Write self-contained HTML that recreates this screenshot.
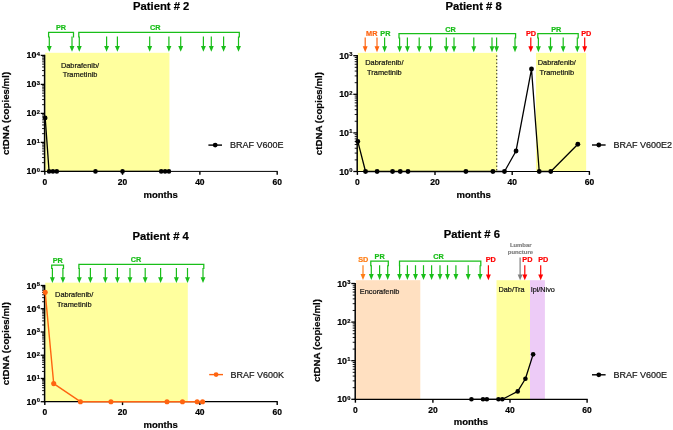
<!DOCTYPE html>
<html lang="en"><head><meta charset="utf-8"><title>ctDNA patients</title>
<style>
html,body{margin:0;padding:0;background:#fff;}
svg{display:block;font-family:"Liberation Sans", Arial, Helvetica, sans-serif;}
</style></head>
<body>
<svg width="673" height="430" viewBox="0 0 673 430">
<rect x="0" y="0" width="673" height="430" fill="#ffffff"/>
<rect x="45.20" y="52.80" width="124.23" height="118.60" fill="#ffff9e"/>
<line x1="44.60" y1="54.80" x2="44.60" y2="172.00" stroke="#000" stroke-width="1.5"/>
<line x1="44.00" y1="171.40" x2="277.80" y2="171.40" stroke="#000" stroke-width="1.0"/>
<line x1="40.70" y1="171.40" x2="44.60" y2="171.40" stroke="#000" stroke-width="1.3"/>
<text x="40.00" y="174.40" font-size="8.9" font-weight="bold" stroke="#000" stroke-width="0.2" text-anchor="end">10<tspan font-size="5.8" dx="0.3" dy="-2.6">0</tspan></text>
<line x1="42.10" y1="162.67" x2="44.60" y2="162.67" stroke="#000" stroke-width="0.9"/>
<line x1="42.10" y1="157.56" x2="44.60" y2="157.56" stroke="#000" stroke-width="0.9"/>
<line x1="42.10" y1="153.94" x2="44.60" y2="153.94" stroke="#000" stroke-width="0.9"/>
<line x1="42.10" y1="151.13" x2="44.60" y2="151.13" stroke="#000" stroke-width="0.9"/>
<line x1="42.10" y1="148.83" x2="44.60" y2="148.83" stroke="#000" stroke-width="0.9"/>
<line x1="42.10" y1="146.89" x2="44.60" y2="146.89" stroke="#000" stroke-width="0.9"/>
<line x1="42.10" y1="145.21" x2="44.60" y2="145.21" stroke="#000" stroke-width="0.9"/>
<line x1="42.10" y1="143.73" x2="44.60" y2="143.73" stroke="#000" stroke-width="0.9"/>
<line x1="40.70" y1="142.40" x2="44.60" y2="142.40" stroke="#000" stroke-width="1.3"/>
<text x="40.00" y="145.40" font-size="8.9" font-weight="bold" stroke="#000" stroke-width="0.2" text-anchor="end">10<tspan font-size="5.8" dx="0.3" dy="-2.6">1</tspan></text>
<line x1="42.10" y1="133.67" x2="44.60" y2="133.67" stroke="#000" stroke-width="0.9"/>
<line x1="42.10" y1="128.56" x2="44.60" y2="128.56" stroke="#000" stroke-width="0.9"/>
<line x1="42.10" y1="124.94" x2="44.60" y2="124.94" stroke="#000" stroke-width="0.9"/>
<line x1="42.10" y1="122.13" x2="44.60" y2="122.13" stroke="#000" stroke-width="0.9"/>
<line x1="42.10" y1="119.83" x2="44.60" y2="119.83" stroke="#000" stroke-width="0.9"/>
<line x1="42.10" y1="117.89" x2="44.60" y2="117.89" stroke="#000" stroke-width="0.9"/>
<line x1="42.10" y1="116.21" x2="44.60" y2="116.21" stroke="#000" stroke-width="0.9"/>
<line x1="42.10" y1="114.73" x2="44.60" y2="114.73" stroke="#000" stroke-width="0.9"/>
<line x1="40.70" y1="113.40" x2="44.60" y2="113.40" stroke="#000" stroke-width="1.3"/>
<text x="40.00" y="116.40" font-size="8.9" font-weight="bold" stroke="#000" stroke-width="0.2" text-anchor="end">10<tspan font-size="5.8" dx="0.3" dy="-2.6">2</tspan></text>
<line x1="42.10" y1="104.67" x2="44.60" y2="104.67" stroke="#000" stroke-width="0.9"/>
<line x1="42.10" y1="99.56" x2="44.60" y2="99.56" stroke="#000" stroke-width="0.9"/>
<line x1="42.10" y1="95.94" x2="44.60" y2="95.94" stroke="#000" stroke-width="0.9"/>
<line x1="42.10" y1="93.13" x2="44.60" y2="93.13" stroke="#000" stroke-width="0.9"/>
<line x1="42.10" y1="90.83" x2="44.60" y2="90.83" stroke="#000" stroke-width="0.9"/>
<line x1="42.10" y1="88.89" x2="44.60" y2="88.89" stroke="#000" stroke-width="0.9"/>
<line x1="42.10" y1="87.21" x2="44.60" y2="87.21" stroke="#000" stroke-width="0.9"/>
<line x1="42.10" y1="85.73" x2="44.60" y2="85.73" stroke="#000" stroke-width="0.9"/>
<line x1="40.70" y1="84.40" x2="44.60" y2="84.40" stroke="#000" stroke-width="1.3"/>
<text x="40.00" y="87.40" font-size="8.9" font-weight="bold" stroke="#000" stroke-width="0.2" text-anchor="end">10<tspan font-size="5.8" dx="0.3" dy="-2.6">3</tspan></text>
<line x1="42.10" y1="75.67" x2="44.60" y2="75.67" stroke="#000" stroke-width="0.9"/>
<line x1="42.10" y1="70.56" x2="44.60" y2="70.56" stroke="#000" stroke-width="0.9"/>
<line x1="42.10" y1="66.94" x2="44.60" y2="66.94" stroke="#000" stroke-width="0.9"/>
<line x1="42.10" y1="64.13" x2="44.60" y2="64.13" stroke="#000" stroke-width="0.9"/>
<line x1="42.10" y1="61.83" x2="44.60" y2="61.83" stroke="#000" stroke-width="0.9"/>
<line x1="42.10" y1="59.89" x2="44.60" y2="59.89" stroke="#000" stroke-width="0.9"/>
<line x1="42.10" y1="58.21" x2="44.60" y2="58.21" stroke="#000" stroke-width="0.9"/>
<line x1="42.10" y1="56.73" x2="44.60" y2="56.73" stroke="#000" stroke-width="0.9"/>
<line x1="40.70" y1="55.40" x2="44.60" y2="55.40" stroke="#000" stroke-width="1.3"/>
<text x="40.00" y="58.40" font-size="8.9" font-weight="bold" stroke="#000" stroke-width="0.2" text-anchor="end">10<tspan font-size="5.8" dx="0.3" dy="-2.6">4</tspan></text>
<line x1="44.80" y1="171.40" x2="44.80" y2="174.80" stroke="#000" stroke-width="1.4"/>
<text x="44.80" y="185.20" font-size="8.5" font-weight="bold" fill="#000" stroke="#000" stroke-width="0.2" text-anchor="middle">0</text>
<line x1="122.53" y1="171.40" x2="122.53" y2="174.80" stroke="#000" stroke-width="1.4"/>
<text x="122.53" y="185.20" font-size="8.5" font-weight="bold" fill="#000" stroke="#000" stroke-width="0.2" text-anchor="middle">20</text>
<line x1="199.87" y1="171.40" x2="199.87" y2="174.80" stroke="#000" stroke-width="1.4"/>
<text x="199.87" y="185.20" font-size="8.5" font-weight="bold" fill="#000" stroke="#000" stroke-width="0.2" text-anchor="middle">40</text>
<line x1="277.20" y1="171.40" x2="277.20" y2="174.80" stroke="#000" stroke-width="1.4"/>
<text x="277.20" y="185.20" font-size="8.5" font-weight="bold" fill="#000" stroke="#000" stroke-width="0.2" text-anchor="middle">60</text>
<text x="161.20" y="9.60" font-size="11.25" font-weight="bold" fill="#000" stroke="#000" stroke-width="0.2" text-anchor="middle">Patient # 2</text>
<text x="160.70" y="198.00" font-size="9.5" font-weight="bold" fill="#000" stroke="#000" stroke-width="0.2" text-anchor="middle">months</text>
<text transform="translate(9.30,113.40) rotate(-90)" font-size="9.7" font-weight="bold" stroke="#000" stroke-width="0.2" text-anchor="middle">ctDNA (copies/ml)</text>
<polyline points="48.60,37.50 48.60,32.40 73.50,32.40 73.50,37.50" fill="none" stroke="#19be19" stroke-width="1.25"/>
<line x1="49.30" y1="36.50" x2="49.30" y2="46.90" stroke="#19be19" stroke-width="1.2"/>
<polygon points="46.85,45.90 51.75,45.90 49.30,51.80" fill="#19be19"/>
<line x1="72.00" y1="36.50" x2="72.00" y2="46.90" stroke="#19be19" stroke-width="1.2"/>
<polygon points="69.55,45.90 74.45,45.90 72.00,51.80" fill="#19be19"/>
<polyline points="78.80,37.50 78.80,32.40 239.30,32.40 239.30,37.50" fill="none" stroke="#19be19" stroke-width="1.25"/>
<line x1="79.30" y1="36.50" x2="79.30" y2="46.90" stroke="#19be19" stroke-width="1.2"/>
<polygon points="76.85,45.90 81.75,45.90 79.30,51.80" fill="#19be19"/>
<line x1="106.60" y1="36.50" x2="106.60" y2="46.90" stroke="#19be19" stroke-width="1.2"/>
<polygon points="104.15,45.90 109.05,45.90 106.60,51.80" fill="#19be19"/>
<line x1="117.40" y1="36.50" x2="117.40" y2="46.90" stroke="#19be19" stroke-width="1.2"/>
<polygon points="114.95,45.90 119.85,45.90 117.40,51.80" fill="#19be19"/>
<line x1="149.70" y1="36.50" x2="149.70" y2="46.90" stroke="#19be19" stroke-width="1.2"/>
<polygon points="147.25,45.90 152.15,45.90 149.70,51.80" fill="#19be19"/>
<line x1="168.90" y1="36.50" x2="168.90" y2="46.90" stroke="#19be19" stroke-width="1.2"/>
<polygon points="166.45,45.90 171.35,45.90 168.90,51.80" fill="#19be19"/>
<line x1="180.70" y1="36.50" x2="180.70" y2="46.90" stroke="#19be19" stroke-width="1.2"/>
<polygon points="178.25,45.90 183.15,45.90 180.70,51.80" fill="#19be19"/>
<line x1="203.40" y1="36.50" x2="203.40" y2="46.90" stroke="#19be19" stroke-width="1.2"/>
<polygon points="200.95,45.90 205.85,45.90 203.40,51.80" fill="#19be19"/>
<line x1="211.30" y1="36.50" x2="211.30" y2="46.90" stroke="#19be19" stroke-width="1.2"/>
<polygon points="208.85,45.90 213.75,45.90 211.30,51.80" fill="#19be19"/>
<line x1="223.60" y1="36.50" x2="223.60" y2="46.90" stroke="#19be19" stroke-width="1.2"/>
<polygon points="221.15,45.90 226.05,45.90 223.60,51.80" fill="#19be19"/>
<line x1="238.50" y1="36.50" x2="238.50" y2="46.90" stroke="#19be19" stroke-width="1.2"/>
<polygon points="236.05,45.90 240.95,45.90 238.50,51.80" fill="#19be19"/>
<text x="61.00" y="30.20" font-size="7.3" font-weight="bold" fill="#19be19" stroke="#19be19" stroke-width="0.2" text-anchor="middle">PR</text>
<text x="155.20" y="30.20" font-size="7.3" font-weight="bold" fill="#19be19" stroke="#19be19" stroke-width="0.2" text-anchor="middle">CR</text>
<text x="80.00" y="67.60" font-size="7.4" font-weight="normal" fill="#111" stroke="#111" stroke-width="0.2" text-anchor="middle">Dabrafenib/</text>
<text x="80.00" y="77.30" font-size="7.4" font-weight="normal" fill="#111" stroke="#111" stroke-width="0.2" text-anchor="middle">Trametinib</text>
<polyline points="45.20,117.89 49.07,171.40 52.93,171.40 56.80,171.40 95.47,171.40 122.53,171.40 161.20,171.40 165.07,171.40 168.93,171.40" fill="none" stroke="#000" stroke-width="1.3" stroke-linejoin="round"/>
<circle cx="45.20" cy="117.89" r="2.3" fill="#000"/>
<circle cx="49.07" cy="171.40" r="2.3" fill="#000"/>
<circle cx="52.93" cy="171.40" r="2.3" fill="#000"/>
<circle cx="56.80" cy="171.40" r="2.3" fill="#000"/>
<circle cx="95.47" cy="171.40" r="2.3" fill="#000"/>
<circle cx="122.53" cy="171.40" r="2.3" fill="#000"/>
<circle cx="161.20" cy="171.40" r="2.3" fill="#000"/>
<circle cx="165.07" cy="171.40" r="2.3" fill="#000"/>
<circle cx="168.93" cy="171.40" r="2.3" fill="#000"/>
<line x1="208.40" y1="145.10" x2="222.00" y2="145.10" stroke="#000" stroke-width="1.4"/>
<circle cx="215.20" cy="145.10" r="2.4" fill="#000"/>
<text x="229.90" y="148.30" font-size="9.0" font-weight="normal" fill="#151515" stroke="#151515" stroke-width="0.2" text-anchor="start">BRAF V600E</text>
<rect x="357.80" y="52.90" width="139.36" height="118.60" fill="#ffff9e"/>
<rect x="535.96" y="52.90" width="50.18" height="118.60" fill="#ffff9e"/>
<line x1="496.76" y1="55.5" x2="496.76" y2="171.50" stroke="#000" stroke-width="1" stroke-dasharray="1.2,2.35"/>
<line x1="357.20" y1="55.10" x2="357.20" y2="172.10" stroke="#000" stroke-width="1.5"/>
<line x1="356.60" y1="171.50" x2="590.00" y2="171.50" stroke="#000" stroke-width="1.05"/>
<line x1="353.30" y1="171.50" x2="357.20" y2="171.50" stroke="#000" stroke-width="1.3"/>
<text x="352.60" y="174.50" font-size="8.9" font-weight="bold" stroke="#000" stroke-width="0.2" text-anchor="end">10<tspan font-size="5.8" dx="0.3" dy="-2.6">0</tspan></text>
<line x1="354.70" y1="159.88" x2="357.20" y2="159.88" stroke="#000" stroke-width="0.9"/>
<line x1="354.70" y1="153.08" x2="357.20" y2="153.08" stroke="#000" stroke-width="0.9"/>
<line x1="354.70" y1="148.26" x2="357.20" y2="148.26" stroke="#000" stroke-width="0.9"/>
<line x1="354.70" y1="144.52" x2="357.20" y2="144.52" stroke="#000" stroke-width="0.9"/>
<line x1="354.70" y1="141.46" x2="357.20" y2="141.46" stroke="#000" stroke-width="0.9"/>
<line x1="354.70" y1="138.88" x2="357.20" y2="138.88" stroke="#000" stroke-width="0.9"/>
<line x1="354.70" y1="136.64" x2="357.20" y2="136.64" stroke="#000" stroke-width="0.9"/>
<line x1="354.70" y1="134.67" x2="357.20" y2="134.67" stroke="#000" stroke-width="0.9"/>
<line x1="353.30" y1="132.90" x2="357.20" y2="132.90" stroke="#000" stroke-width="1.3"/>
<text x="352.60" y="135.90" font-size="8.9" font-weight="bold" stroke="#000" stroke-width="0.2" text-anchor="end">10<tspan font-size="5.8" dx="0.3" dy="-2.6">1</tspan></text>
<line x1="354.70" y1="121.28" x2="357.20" y2="121.28" stroke="#000" stroke-width="0.9"/>
<line x1="354.70" y1="114.48" x2="357.20" y2="114.48" stroke="#000" stroke-width="0.9"/>
<line x1="354.70" y1="109.66" x2="357.20" y2="109.66" stroke="#000" stroke-width="0.9"/>
<line x1="354.70" y1="105.92" x2="357.20" y2="105.92" stroke="#000" stroke-width="0.9"/>
<line x1="354.70" y1="102.86" x2="357.20" y2="102.86" stroke="#000" stroke-width="0.9"/>
<line x1="354.70" y1="100.28" x2="357.20" y2="100.28" stroke="#000" stroke-width="0.9"/>
<line x1="354.70" y1="98.04" x2="357.20" y2="98.04" stroke="#000" stroke-width="0.9"/>
<line x1="354.70" y1="96.07" x2="357.20" y2="96.07" stroke="#000" stroke-width="0.9"/>
<line x1="353.30" y1="94.30" x2="357.20" y2="94.30" stroke="#000" stroke-width="1.3"/>
<text x="352.60" y="97.30" font-size="8.9" font-weight="bold" stroke="#000" stroke-width="0.2" text-anchor="end">10<tspan font-size="5.8" dx="0.3" dy="-2.6">2</tspan></text>
<line x1="354.70" y1="82.68" x2="357.20" y2="82.68" stroke="#000" stroke-width="0.9"/>
<line x1="354.70" y1="75.88" x2="357.20" y2="75.88" stroke="#000" stroke-width="0.9"/>
<line x1="354.70" y1="71.06" x2="357.20" y2="71.06" stroke="#000" stroke-width="0.9"/>
<line x1="354.70" y1="67.32" x2="357.20" y2="67.32" stroke="#000" stroke-width="0.9"/>
<line x1="354.70" y1="64.26" x2="357.20" y2="64.26" stroke="#000" stroke-width="0.9"/>
<line x1="354.70" y1="61.68" x2="357.20" y2="61.68" stroke="#000" stroke-width="0.9"/>
<line x1="354.70" y1="59.44" x2="357.20" y2="59.44" stroke="#000" stroke-width="0.9"/>
<line x1="354.70" y1="57.47" x2="357.20" y2="57.47" stroke="#000" stroke-width="0.9"/>
<line x1="353.30" y1="55.70" x2="357.20" y2="55.70" stroke="#000" stroke-width="1.3"/>
<text x="352.60" y="58.70" font-size="8.9" font-weight="bold" stroke="#000" stroke-width="0.2" text-anchor="end">10<tspan font-size="5.8" dx="0.3" dy="-2.6">3</tspan></text>
<line x1="357.40" y1="171.50" x2="357.40" y2="174.90" stroke="#000" stroke-width="1.4"/>
<text x="357.40" y="185.20" font-size="8.5" font-weight="bold" fill="#000" stroke="#000" stroke-width="0.2" text-anchor="middle">0</text>
<line x1="435.00" y1="171.50" x2="435.00" y2="174.90" stroke="#000" stroke-width="1.4"/>
<text x="435.00" y="185.20" font-size="8.5" font-weight="bold" fill="#000" stroke="#000" stroke-width="0.2" text-anchor="middle">20</text>
<line x1="512.20" y1="171.50" x2="512.20" y2="174.90" stroke="#000" stroke-width="1.4"/>
<text x="512.20" y="185.20" font-size="8.5" font-weight="bold" fill="#000" stroke="#000" stroke-width="0.2" text-anchor="middle">40</text>
<line x1="589.40" y1="171.50" x2="589.40" y2="174.90" stroke="#000" stroke-width="1.4"/>
<text x="589.40" y="185.20" font-size="8.5" font-weight="bold" fill="#000" stroke="#000" stroke-width="0.2" text-anchor="middle">60</text>
<text x="473.60" y="10.20" font-size="11.25" font-weight="bold" fill="#000" stroke="#000" stroke-width="0.2" text-anchor="middle">Patient # 8</text>
<text x="473.70" y="198.00" font-size="9.5" font-weight="bold" fill="#000" stroke="#000" stroke-width="0.2" text-anchor="middle">months</text>
<text transform="translate(321.50,113.60) rotate(-90)" font-size="9.7" font-weight="bold" stroke="#000" stroke-width="0.2" text-anchor="middle">ctDNA (copies/ml)</text>
<line x1="365.20" y1="37.40" x2="365.20" y2="47.30" stroke="#ff6410" stroke-width="1.2"/>
<polygon points="362.75,46.30 367.65,46.30 365.20,52.20" fill="#ff6410"/>
<line x1="377.00" y1="37.40" x2="377.00" y2="47.30" stroke="#ff6410" stroke-width="1.2"/>
<polygon points="374.55,46.30 379.45,46.30 377.00,52.20" fill="#ff6410"/>
<line x1="384.60" y1="37.40" x2="384.60" y2="47.30" stroke="#19be19" stroke-width="1.2"/>
<polygon points="382.15,46.30 387.05,46.30 384.60,52.20" fill="#19be19"/>
<polyline points="399.00,38.40 399.00,33.50 515.60,33.50 515.60,38.40" fill="none" stroke="#19be19" stroke-width="1.25"/>
<line x1="399.60" y1="37.40" x2="399.60" y2="47.30" stroke="#19be19" stroke-width="1.2"/>
<polygon points="397.15,46.30 402.05,46.30 399.60,52.20" fill="#19be19"/>
<line x1="407.40" y1="37.40" x2="407.40" y2="47.30" stroke="#19be19" stroke-width="1.2"/>
<polygon points="404.95,46.30 409.85,46.30 407.40,52.20" fill="#19be19"/>
<line x1="419.20" y1="37.40" x2="419.20" y2="47.30" stroke="#19be19" stroke-width="1.2"/>
<polygon points="416.75,46.30 421.65,46.30 419.20,52.20" fill="#19be19"/>
<line x1="430.60" y1="37.40" x2="430.60" y2="47.30" stroke="#19be19" stroke-width="1.2"/>
<polygon points="428.15,46.30 433.05,46.30 430.60,52.20" fill="#19be19"/>
<line x1="446.30" y1="37.40" x2="446.30" y2="47.30" stroke="#19be19" stroke-width="1.2"/>
<polygon points="443.85,46.30 448.75,46.30 446.30,52.20" fill="#19be19"/>
<line x1="454.00" y1="37.40" x2="454.00" y2="47.30" stroke="#19be19" stroke-width="1.2"/>
<polygon points="451.55,46.30 456.45,46.30 454.00,52.20" fill="#19be19"/>
<line x1="473.80" y1="37.40" x2="473.80" y2="47.30" stroke="#19be19" stroke-width="1.2"/>
<polygon points="471.35,46.30 476.25,46.30 473.80,52.20" fill="#19be19"/>
<line x1="492.00" y1="37.40" x2="492.00" y2="47.30" stroke="#19be19" stroke-width="1.2"/>
<polygon points="489.55,46.30 494.45,46.30 492.00,52.20" fill="#19be19"/>
<line x1="496.60" y1="37.40" x2="496.60" y2="47.30" stroke="#19be19" stroke-width="1.2"/>
<polygon points="494.15,46.30 499.05,46.30 496.60,52.20" fill="#19be19"/>
<line x1="515.00" y1="37.40" x2="515.00" y2="47.30" stroke="#19be19" stroke-width="1.2"/>
<polygon points="512.55,46.30 517.45,46.30 515.00,52.20" fill="#19be19"/>
<line x1="530.80" y1="37.40" x2="530.80" y2="47.30" stroke="#ff0000" stroke-width="1.2"/>
<polygon points="528.35,46.30 533.25,46.30 530.80,52.20" fill="#ff0000"/>
<polyline points="537.80,38.40 537.80,33.50 578.20,33.50 578.20,38.40" fill="none" stroke="#19be19" stroke-width="1.25"/>
<line x1="538.40" y1="37.40" x2="538.40" y2="47.30" stroke="#19be19" stroke-width="1.2"/>
<polygon points="535.95,46.30 540.85,46.30 538.40,52.20" fill="#19be19"/>
<line x1="550.50" y1="37.40" x2="550.50" y2="47.30" stroke="#19be19" stroke-width="1.2"/>
<polygon points="548.05,46.30 552.95,46.30 550.50,52.20" fill="#19be19"/>
<line x1="563.20" y1="37.40" x2="563.20" y2="47.30" stroke="#19be19" stroke-width="1.2"/>
<polygon points="560.75,46.30 565.65,46.30 563.20,52.20" fill="#19be19"/>
<line x1="577.30" y1="37.40" x2="577.30" y2="47.30" stroke="#19be19" stroke-width="1.2"/>
<polygon points="574.85,46.30 579.75,46.30 577.30,52.20" fill="#19be19"/>
<line x1="584.70" y1="37.40" x2="584.70" y2="47.30" stroke="#ff0000" stroke-width="1.2"/>
<polygon points="582.25,46.30 587.15,46.30 584.70,52.20" fill="#ff0000"/>
<text x="371.80" y="36.00" font-size="7.3" font-weight="bold" fill="#ff6410" stroke="#ff6410" stroke-width="0.2" text-anchor="middle">MR</text>
<text x="385.40" y="36.00" font-size="7.3" font-weight="bold" fill="#19be19" stroke="#19be19" stroke-width="0.2" text-anchor="middle">PR</text>
<text x="450.40" y="31.90" font-size="7.3" font-weight="bold" fill="#19be19" stroke="#19be19" stroke-width="0.2" text-anchor="middle">CR</text>
<text x="531.00" y="35.80" font-size="7.3" font-weight="bold" fill="#ff0000" stroke="#ff0000" stroke-width="0.2" text-anchor="middle">PD</text>
<text x="556.20" y="31.90" font-size="7.3" font-weight="bold" fill="#19be19" stroke="#19be19" stroke-width="0.2" text-anchor="middle">PR</text>
<text x="586.20" y="35.80" font-size="7.3" font-weight="bold" fill="#ff0000" stroke="#ff0000" stroke-width="0.2" text-anchor="middle">PD</text>
<text x="384.40" y="65.40" font-size="7.4" font-weight="normal" fill="#111" stroke="#111" stroke-width="0.2" text-anchor="middle">Dabrafenib/</text>
<text x="384.40" y="75.10" font-size="7.4" font-weight="normal" fill="#111" stroke="#111" stroke-width="0.2" text-anchor="middle">Trametinib</text>
<text x="556.80" y="65.30" font-size="7.4" font-weight="normal" fill="#111" stroke="#111" stroke-width="0.2" text-anchor="middle">Dabrafenib/</text>
<text x="556.80" y="75.00" font-size="7.4" font-weight="normal" fill="#111" stroke="#111" stroke-width="0.2" text-anchor="middle">Trametinib</text>
<polyline points="357.80,141.46 365.52,171.50 377.10,171.50 392.54,171.50 400.26,171.50 407.98,171.50 465.88,171.50 492.90,171.50 504.48,171.50 516.06,150.98 531.50,69.01 539.22,171.50 550.80,171.50 577.82,144.19" fill="none" stroke="#000" stroke-width="1.3" stroke-linejoin="round"/>
<circle cx="357.80" cy="141.46" r="2.45" fill="#000"/>
<circle cx="365.52" cy="171.50" r="2.45" fill="#000"/>
<circle cx="377.10" cy="171.50" r="2.45" fill="#000"/>
<circle cx="392.54" cy="171.50" r="2.45" fill="#000"/>
<circle cx="400.26" cy="171.50" r="2.45" fill="#000"/>
<circle cx="407.98" cy="171.50" r="2.45" fill="#000"/>
<circle cx="465.88" cy="171.50" r="2.45" fill="#000"/>
<circle cx="492.90" cy="171.50" r="2.45" fill="#000"/>
<circle cx="504.48" cy="171.50" r="2.45" fill="#000"/>
<circle cx="516.06" cy="150.98" r="2.45" fill="#000"/>
<circle cx="531.50" cy="69.01" r="2.45" fill="#000"/>
<circle cx="539.22" cy="171.50" r="2.45" fill="#000"/>
<circle cx="550.80" cy="171.50" r="2.45" fill="#000"/>
<circle cx="577.82" cy="144.19" r="2.45" fill="#000"/>
<line x1="592.00" y1="145.00" x2="605.60" y2="145.00" stroke="#000" stroke-width="1.4"/>
<circle cx="598.80" cy="145.00" r="2.4" fill="#000"/>
<text x="613.50" y="148.20" font-size="9.0" font-weight="normal" fill="#151515" stroke="#151515" stroke-width="0.2" text-anchor="start">BRAF V600E2</text>
<rect x="45.20" y="282.70" width="142.60" height="119.00" fill="#ffff9e"/>
<line x1="44.60" y1="284.90" x2="44.60" y2="402.30" stroke="#000" stroke-width="1.5"/>
<line x1="44.00" y1="401.70" x2="277.80" y2="401.70" stroke="#000" stroke-width="1.25"/>
<line x1="40.70" y1="401.70" x2="44.60" y2="401.70" stroke="#000" stroke-width="1.3"/>
<text x="40.00" y="404.70" font-size="8.9" font-weight="bold" stroke="#000" stroke-width="0.2" text-anchor="end">10<tspan font-size="5.8" dx="0.3" dy="-2.6">0</tspan></text>
<line x1="42.10" y1="394.70" x2="44.60" y2="394.70" stroke="#000" stroke-width="0.9"/>
<line x1="42.10" y1="390.61" x2="44.60" y2="390.61" stroke="#000" stroke-width="0.9"/>
<line x1="42.10" y1="387.71" x2="44.60" y2="387.71" stroke="#000" stroke-width="0.9"/>
<line x1="42.10" y1="385.46" x2="44.60" y2="385.46" stroke="#000" stroke-width="0.9"/>
<line x1="42.10" y1="383.62" x2="44.60" y2="383.62" stroke="#000" stroke-width="0.9"/>
<line x1="42.10" y1="382.06" x2="44.60" y2="382.06" stroke="#000" stroke-width="0.9"/>
<line x1="42.10" y1="380.71" x2="44.60" y2="380.71" stroke="#000" stroke-width="0.9"/>
<line x1="42.10" y1="379.52" x2="44.60" y2="379.52" stroke="#000" stroke-width="0.9"/>
<line x1="40.70" y1="378.46" x2="44.60" y2="378.46" stroke="#000" stroke-width="1.3"/>
<text x="40.00" y="381.46" font-size="8.9" font-weight="bold" stroke="#000" stroke-width="0.2" text-anchor="end">10<tspan font-size="5.8" dx="0.3" dy="-2.6">1</tspan></text>
<line x1="42.10" y1="371.46" x2="44.60" y2="371.46" stroke="#000" stroke-width="0.9"/>
<line x1="42.10" y1="367.37" x2="44.60" y2="367.37" stroke="#000" stroke-width="0.9"/>
<line x1="42.10" y1="364.47" x2="44.60" y2="364.47" stroke="#000" stroke-width="0.9"/>
<line x1="42.10" y1="362.22" x2="44.60" y2="362.22" stroke="#000" stroke-width="0.9"/>
<line x1="42.10" y1="360.38" x2="44.60" y2="360.38" stroke="#000" stroke-width="0.9"/>
<line x1="42.10" y1="358.82" x2="44.60" y2="358.82" stroke="#000" stroke-width="0.9"/>
<line x1="42.10" y1="357.47" x2="44.60" y2="357.47" stroke="#000" stroke-width="0.9"/>
<line x1="42.10" y1="356.28" x2="44.60" y2="356.28" stroke="#000" stroke-width="0.9"/>
<line x1="40.70" y1="355.22" x2="44.60" y2="355.22" stroke="#000" stroke-width="1.3"/>
<text x="40.00" y="358.22" font-size="8.9" font-weight="bold" stroke="#000" stroke-width="0.2" text-anchor="end">10<tspan font-size="5.8" dx="0.3" dy="-2.6">2</tspan></text>
<line x1="42.10" y1="348.22" x2="44.60" y2="348.22" stroke="#000" stroke-width="0.9"/>
<line x1="42.10" y1="344.13" x2="44.60" y2="344.13" stroke="#000" stroke-width="0.9"/>
<line x1="42.10" y1="341.23" x2="44.60" y2="341.23" stroke="#000" stroke-width="0.9"/>
<line x1="42.10" y1="338.98" x2="44.60" y2="338.98" stroke="#000" stroke-width="0.9"/>
<line x1="42.10" y1="337.14" x2="44.60" y2="337.14" stroke="#000" stroke-width="0.9"/>
<line x1="42.10" y1="335.58" x2="44.60" y2="335.58" stroke="#000" stroke-width="0.9"/>
<line x1="42.10" y1="334.23" x2="44.60" y2="334.23" stroke="#000" stroke-width="0.9"/>
<line x1="42.10" y1="333.04" x2="44.60" y2="333.04" stroke="#000" stroke-width="0.9"/>
<line x1="40.70" y1="331.98" x2="44.60" y2="331.98" stroke="#000" stroke-width="1.3"/>
<text x="40.00" y="334.98" font-size="8.9" font-weight="bold" stroke="#000" stroke-width="0.2" text-anchor="end">10<tspan font-size="5.8" dx="0.3" dy="-2.6">3</tspan></text>
<line x1="42.10" y1="324.98" x2="44.60" y2="324.98" stroke="#000" stroke-width="0.9"/>
<line x1="42.10" y1="320.89" x2="44.60" y2="320.89" stroke="#000" stroke-width="0.9"/>
<line x1="42.10" y1="317.99" x2="44.60" y2="317.99" stroke="#000" stroke-width="0.9"/>
<line x1="42.10" y1="315.74" x2="44.60" y2="315.74" stroke="#000" stroke-width="0.9"/>
<line x1="42.10" y1="313.90" x2="44.60" y2="313.90" stroke="#000" stroke-width="0.9"/>
<line x1="42.10" y1="312.34" x2="44.60" y2="312.34" stroke="#000" stroke-width="0.9"/>
<line x1="42.10" y1="310.99" x2="44.60" y2="310.99" stroke="#000" stroke-width="0.9"/>
<line x1="42.10" y1="309.80" x2="44.60" y2="309.80" stroke="#000" stroke-width="0.9"/>
<line x1="40.70" y1="308.74" x2="44.60" y2="308.74" stroke="#000" stroke-width="1.3"/>
<text x="40.00" y="311.74" font-size="8.9" font-weight="bold" stroke="#000" stroke-width="0.2" text-anchor="end">10<tspan font-size="5.8" dx="0.3" dy="-2.6">4</tspan></text>
<line x1="42.10" y1="301.74" x2="44.60" y2="301.74" stroke="#000" stroke-width="0.9"/>
<line x1="42.10" y1="297.65" x2="44.60" y2="297.65" stroke="#000" stroke-width="0.9"/>
<line x1="42.10" y1="294.75" x2="44.60" y2="294.75" stroke="#000" stroke-width="0.9"/>
<line x1="42.10" y1="292.50" x2="44.60" y2="292.50" stroke="#000" stroke-width="0.9"/>
<line x1="42.10" y1="290.66" x2="44.60" y2="290.66" stroke="#000" stroke-width="0.9"/>
<line x1="42.10" y1="289.10" x2="44.60" y2="289.10" stroke="#000" stroke-width="0.9"/>
<line x1="42.10" y1="287.75" x2="44.60" y2="287.75" stroke="#000" stroke-width="0.9"/>
<line x1="42.10" y1="286.56" x2="44.60" y2="286.56" stroke="#000" stroke-width="0.9"/>
<line x1="40.70" y1="285.50" x2="44.60" y2="285.50" stroke="#000" stroke-width="1.3"/>
<text x="40.00" y="288.50" font-size="8.9" font-weight="bold" stroke="#000" stroke-width="0.2" text-anchor="end">10<tspan font-size="5.8" dx="0.3" dy="-2.6">5</tspan></text>
<line x1="44.80" y1="401.70" x2="44.80" y2="405.10" stroke="#000" stroke-width="1.4"/>
<text x="44.80" y="415.20" font-size="8.5" font-weight="bold" fill="#000" stroke="#000" stroke-width="0.2" text-anchor="middle">0</text>
<line x1="122.53" y1="401.70" x2="122.53" y2="405.10" stroke="#000" stroke-width="1.4"/>
<text x="122.53" y="415.20" font-size="8.5" font-weight="bold" fill="#000" stroke="#000" stroke-width="0.2" text-anchor="middle">20</text>
<line x1="199.87" y1="401.70" x2="199.87" y2="405.10" stroke="#000" stroke-width="1.4"/>
<text x="199.87" y="415.20" font-size="8.5" font-weight="bold" fill="#000" stroke="#000" stroke-width="0.2" text-anchor="middle">40</text>
<line x1="277.20" y1="401.70" x2="277.20" y2="405.10" stroke="#000" stroke-width="1.4"/>
<text x="277.20" y="415.20" font-size="8.5" font-weight="bold" fill="#000" stroke="#000" stroke-width="0.2" text-anchor="middle">60</text>
<text x="160.70" y="239.80" font-size="11.25" font-weight="bold" fill="#000" stroke="#000" stroke-width="0.2" text-anchor="middle">Patient # 4</text>
<text x="160.70" y="427.50" font-size="9.5" font-weight="bold" fill="#000" stroke="#000" stroke-width="0.2" text-anchor="middle">months</text>
<text transform="translate(9.30,343.60) rotate(-90)" font-size="9.7" font-weight="bold" stroke="#000" stroke-width="0.2" text-anchor="middle">ctDNA (copies/ml)</text>
<polyline points="51.70,269.00 51.70,265.00 63.50,265.00 63.50,269.00" fill="none" stroke="#19be19" stroke-width="1.25"/>
<line x1="52.40" y1="268.00" x2="52.40" y2="278.20" stroke="#19be19" stroke-width="1.2"/>
<polygon points="49.95,277.20 54.85,277.20 52.40,283.10" fill="#19be19"/>
<line x1="62.90" y1="268.00" x2="62.90" y2="278.20" stroke="#19be19" stroke-width="1.2"/>
<polygon points="60.45,277.20 65.35,277.20 62.90,283.10" fill="#19be19"/>
<polyline points="78.90,269.00 78.90,264.30 203.80,264.30 203.80,269.00" fill="none" stroke="#19be19" stroke-width="1.25"/>
<line x1="79.30" y1="268.00" x2="79.30" y2="278.20" stroke="#19be19" stroke-width="1.2"/>
<polygon points="76.85,277.20 81.75,277.20 79.30,283.10" fill="#19be19"/>
<line x1="90.40" y1="268.00" x2="90.40" y2="278.20" stroke="#19be19" stroke-width="1.2"/>
<polygon points="87.95,277.20 92.85,277.20 90.40,283.10" fill="#19be19"/>
<line x1="105.30" y1="268.00" x2="105.30" y2="278.20" stroke="#19be19" stroke-width="1.2"/>
<polygon points="102.85,277.20 107.75,277.20 105.30,283.10" fill="#19be19"/>
<line x1="117.40" y1="268.00" x2="117.40" y2="278.20" stroke="#19be19" stroke-width="1.2"/>
<polygon points="114.95,277.20 119.85,277.20 117.40,283.10" fill="#19be19"/>
<line x1="130.00" y1="268.00" x2="130.00" y2="278.20" stroke="#19be19" stroke-width="1.2"/>
<polygon points="127.55,277.20 132.45,277.20 130.00,283.10" fill="#19be19"/>
<line x1="145.20" y1="268.00" x2="145.20" y2="278.20" stroke="#19be19" stroke-width="1.2"/>
<polygon points="142.75,277.20 147.65,277.20 145.20,283.10" fill="#19be19"/>
<line x1="160.60" y1="268.00" x2="160.60" y2="278.20" stroke="#19be19" stroke-width="1.2"/>
<polygon points="158.15,277.20 163.05,277.20 160.60,283.10" fill="#19be19"/>
<line x1="176.40" y1="268.00" x2="176.40" y2="278.20" stroke="#19be19" stroke-width="1.2"/>
<polygon points="173.95,277.20 178.85,277.20 176.40,283.10" fill="#19be19"/>
<line x1="187.50" y1="268.00" x2="187.50" y2="278.20" stroke="#19be19" stroke-width="1.2"/>
<polygon points="185.05,277.20 189.95,277.20 187.50,283.10" fill="#19be19"/>
<line x1="203.00" y1="268.00" x2="203.00" y2="278.20" stroke="#19be19" stroke-width="1.2"/>
<polygon points="200.55,277.20 205.45,277.20 203.00,283.10" fill="#19be19"/>
<text x="57.80" y="262.50" font-size="7.3" font-weight="bold" fill="#19be19" stroke="#19be19" stroke-width="0.2" text-anchor="middle">PR</text>
<text x="135.90" y="262.00" font-size="7.3" font-weight="bold" fill="#19be19" stroke="#19be19" stroke-width="0.2" text-anchor="middle">CR</text>
<text x="74.20" y="297.10" font-size="7.4" font-weight="normal" fill="#111" stroke="#111" stroke-width="0.2" text-anchor="middle">Dabrafenib/</text>
<text x="74.20" y="306.80" font-size="7.4" font-weight="normal" fill="#111" stroke="#111" stroke-width="0.2" text-anchor="middle">Trametinib</text>
<polyline points="45.20,292.30 53.71,383.62 80.39,401.70 110.93,401.70 167.00,401.70 182.47,401.70 197.16,401.70 202.57,401.70" fill="none" stroke="#ff6410" stroke-width="1.4" stroke-linejoin="round"/>
<circle cx="45.20" cy="292.30" r="2.55" fill="#ff6410"/>
<circle cx="53.71" cy="383.62" r="2.55" fill="#ff6410"/>
<circle cx="80.39" cy="401.70" r="2.55" fill="#ff6410"/>
<circle cx="110.93" cy="401.70" r="2.55" fill="#ff6410"/>
<circle cx="167.00" cy="401.70" r="2.55" fill="#ff6410"/>
<circle cx="182.47" cy="401.70" r="2.55" fill="#ff6410"/>
<circle cx="197.16" cy="401.70" r="2.55" fill="#ff6410"/>
<circle cx="202.57" cy="401.70" r="2.55" fill="#ff6410"/>
<line x1="209.20" y1="374.60" x2="223.00" y2="374.60" stroke="#ff6410" stroke-width="1.4"/>
<circle cx="216.10" cy="374.60" r="2.4" fill="#ff6410"/>
<text x="230.60" y="377.80" font-size="9.0" font-weight="normal" fill="#151515" stroke="#151515" stroke-width="0.2" text-anchor="start">BRAF V600K</text>
<rect x="355.80" y="280.20" width="64.50" height="119.10" fill="#ffe0c1"/>
<rect x="496.50" y="280.20" width="33.50" height="119.10" fill="#ffff9e"/>
<rect x="530.00" y="280.20" width="14.90" height="119.10" fill="#edcbf7"/>
<line x1="355.20" y1="282.90" x2="355.20" y2="399.90" stroke="#000" stroke-width="1.5"/>
<line x1="354.60" y1="399.30" x2="587.70" y2="399.30" stroke="#000" stroke-width="1.15"/>
<line x1="351.30" y1="399.30" x2="355.20" y2="399.30" stroke="#000" stroke-width="1.3"/>
<text x="350.60" y="402.30" font-size="8.9" font-weight="bold" stroke="#000" stroke-width="0.2" text-anchor="end">10<tspan font-size="5.8" dx="0.3" dy="-2.6">0</tspan></text>
<line x1="352.70" y1="387.68" x2="355.20" y2="387.68" stroke="#000" stroke-width="0.9"/>
<line x1="352.70" y1="380.88" x2="355.20" y2="380.88" stroke="#000" stroke-width="0.9"/>
<line x1="352.70" y1="376.06" x2="355.20" y2="376.06" stroke="#000" stroke-width="0.9"/>
<line x1="352.70" y1="372.32" x2="355.20" y2="372.32" stroke="#000" stroke-width="0.9"/>
<line x1="352.70" y1="369.26" x2="355.20" y2="369.26" stroke="#000" stroke-width="0.9"/>
<line x1="352.70" y1="366.68" x2="355.20" y2="366.68" stroke="#000" stroke-width="0.9"/>
<line x1="352.70" y1="364.44" x2="355.20" y2="364.44" stroke="#000" stroke-width="0.9"/>
<line x1="352.70" y1="362.47" x2="355.20" y2="362.47" stroke="#000" stroke-width="0.9"/>
<line x1="351.30" y1="360.70" x2="355.20" y2="360.70" stroke="#000" stroke-width="1.3"/>
<text x="350.60" y="363.70" font-size="8.9" font-weight="bold" stroke="#000" stroke-width="0.2" text-anchor="end">10<tspan font-size="5.8" dx="0.3" dy="-2.6">1</tspan></text>
<line x1="352.70" y1="349.08" x2="355.20" y2="349.08" stroke="#000" stroke-width="0.9"/>
<line x1="352.70" y1="342.28" x2="355.20" y2="342.28" stroke="#000" stroke-width="0.9"/>
<line x1="352.70" y1="337.46" x2="355.20" y2="337.46" stroke="#000" stroke-width="0.9"/>
<line x1="352.70" y1="333.72" x2="355.20" y2="333.72" stroke="#000" stroke-width="0.9"/>
<line x1="352.70" y1="330.66" x2="355.20" y2="330.66" stroke="#000" stroke-width="0.9"/>
<line x1="352.70" y1="328.08" x2="355.20" y2="328.08" stroke="#000" stroke-width="0.9"/>
<line x1="352.70" y1="325.84" x2="355.20" y2="325.84" stroke="#000" stroke-width="0.9"/>
<line x1="352.70" y1="323.87" x2="355.20" y2="323.87" stroke="#000" stroke-width="0.9"/>
<line x1="351.30" y1="322.10" x2="355.20" y2="322.10" stroke="#000" stroke-width="1.3"/>
<text x="350.60" y="325.10" font-size="8.9" font-weight="bold" stroke="#000" stroke-width="0.2" text-anchor="end">10<tspan font-size="5.8" dx="0.3" dy="-2.6">2</tspan></text>
<line x1="352.70" y1="310.48" x2="355.20" y2="310.48" stroke="#000" stroke-width="0.9"/>
<line x1="352.70" y1="303.68" x2="355.20" y2="303.68" stroke="#000" stroke-width="0.9"/>
<line x1="352.70" y1="298.86" x2="355.20" y2="298.86" stroke="#000" stroke-width="0.9"/>
<line x1="352.70" y1="295.12" x2="355.20" y2="295.12" stroke="#000" stroke-width="0.9"/>
<line x1="352.70" y1="292.06" x2="355.20" y2="292.06" stroke="#000" stroke-width="0.9"/>
<line x1="352.70" y1="289.48" x2="355.20" y2="289.48" stroke="#000" stroke-width="0.9"/>
<line x1="352.70" y1="287.24" x2="355.20" y2="287.24" stroke="#000" stroke-width="0.9"/>
<line x1="352.70" y1="285.27" x2="355.20" y2="285.27" stroke="#000" stroke-width="0.9"/>
<line x1="351.30" y1="283.50" x2="355.20" y2="283.50" stroke="#000" stroke-width="1.3"/>
<text x="350.60" y="286.50" font-size="8.9" font-weight="bold" stroke="#000" stroke-width="0.2" text-anchor="end">10<tspan font-size="5.8" dx="0.3" dy="-2.6">3</tspan></text>
<line x1="355.40" y1="399.30" x2="355.40" y2="402.70" stroke="#000" stroke-width="1.4"/>
<text x="355.40" y="412.50" font-size="8.5" font-weight="bold" fill="#000" stroke="#000" stroke-width="0.2" text-anchor="middle">0</text>
<line x1="432.90" y1="399.30" x2="432.90" y2="402.70" stroke="#000" stroke-width="1.4"/>
<text x="432.90" y="412.50" font-size="8.5" font-weight="bold" fill="#000" stroke="#000" stroke-width="0.2" text-anchor="middle">20</text>
<line x1="510.00" y1="399.30" x2="510.00" y2="402.70" stroke="#000" stroke-width="1.4"/>
<text x="510.00" y="412.50" font-size="8.5" font-weight="bold" fill="#000" stroke="#000" stroke-width="0.2" text-anchor="middle">40</text>
<line x1="587.10" y1="399.30" x2="587.10" y2="402.70" stroke="#000" stroke-width="1.4"/>
<text x="587.10" y="412.50" font-size="8.5" font-weight="bold" fill="#000" stroke="#000" stroke-width="0.2" text-anchor="middle">60</text>
<text x="471.80" y="238.30" font-size="11.25" font-weight="bold" fill="#000" stroke="#000" stroke-width="0.2" text-anchor="middle">Patient # 6</text>
<text x="470.95" y="425.20" font-size="9.5" font-weight="bold" fill="#000" stroke="#000" stroke-width="0.2" text-anchor="middle">months</text>
<text transform="translate(319.50,340.50) rotate(-90)" font-size="9.7" font-weight="bold" stroke="#000" stroke-width="0.2" text-anchor="middle">ctDNA (copies/ml)</text>
<line x1="363.00" y1="265.20" x2="363.00" y2="275.00" stroke="#ff7d14" stroke-width="1.2"/>
<polygon points="360.55,274.00 365.45,274.00 363.00,279.90" fill="#ff7d14"/>
<polyline points="370.80,266.20 370.80,261.00 388.30,261.00 388.30,266.20" fill="none" stroke="#19be19" stroke-width="1.25"/>
<line x1="371.30" y1="265.20" x2="371.30" y2="275.00" stroke="#19be19" stroke-width="1.2"/>
<polygon points="368.85,274.00 373.75,274.00 371.30,279.90" fill="#19be19"/>
<line x1="379.60" y1="265.20" x2="379.60" y2="275.00" stroke="#19be19" stroke-width="1.2"/>
<polygon points="377.15,274.00 382.05,274.00 379.60,279.90" fill="#19be19"/>
<line x1="387.70" y1="265.20" x2="387.70" y2="275.00" stroke="#19be19" stroke-width="1.2"/>
<polygon points="385.25,274.00 390.15,274.00 387.70,279.90" fill="#19be19"/>
<polyline points="399.50,266.20 399.50,261.00 480.80,261.00 480.80,266.20" fill="none" stroke="#19be19" stroke-width="1.25"/>
<line x1="399.60" y1="265.20" x2="399.60" y2="275.00" stroke="#19be19" stroke-width="1.2"/>
<polygon points="397.15,274.00 402.05,274.00 399.60,279.90" fill="#19be19"/>
<line x1="407.40" y1="265.20" x2="407.40" y2="275.00" stroke="#19be19" stroke-width="1.2"/>
<polygon points="404.95,274.00 409.85,274.00 407.40,279.90" fill="#19be19"/>
<line x1="415.50" y1="265.20" x2="415.50" y2="275.00" stroke="#19be19" stroke-width="1.2"/>
<polygon points="413.05,274.00 417.95,274.00 415.50,279.90" fill="#19be19"/>
<line x1="423.50" y1="265.20" x2="423.50" y2="275.00" stroke="#19be19" stroke-width="1.2"/>
<polygon points="421.05,274.00 425.95,274.00 423.50,279.90" fill="#19be19"/>
<line x1="431.60" y1="265.20" x2="431.60" y2="275.00" stroke="#19be19" stroke-width="1.2"/>
<polygon points="429.15,274.00 434.05,274.00 431.60,279.90" fill="#19be19"/>
<line x1="440.00" y1="265.20" x2="440.00" y2="275.00" stroke="#19be19" stroke-width="1.2"/>
<polygon points="437.55,274.00 442.45,274.00 440.00,279.90" fill="#19be19"/>
<line x1="447.50" y1="265.20" x2="447.50" y2="275.00" stroke="#19be19" stroke-width="1.2"/>
<polygon points="445.05,274.00 449.95,274.00 447.50,279.90" fill="#19be19"/>
<line x1="455.90" y1="265.20" x2="455.90" y2="275.00" stroke="#19be19" stroke-width="1.2"/>
<polygon points="453.45,274.00 458.35,274.00 455.90,279.90" fill="#19be19"/>
<line x1="468.20" y1="265.20" x2="468.20" y2="275.00" stroke="#19be19" stroke-width="1.2"/>
<polygon points="465.75,274.00 470.65,274.00 468.20,279.90" fill="#19be19"/>
<line x1="480.10" y1="265.20" x2="480.10" y2="275.00" stroke="#19be19" stroke-width="1.2"/>
<polygon points="477.65,274.00 482.55,274.00 480.10,279.90" fill="#19be19"/>
<line x1="488.40" y1="265.20" x2="488.40" y2="275.40" stroke="#ff0000" stroke-width="1.2"/>
<polygon points="485.95,274.40 490.85,274.40 488.40,280.30" fill="#ff0000"/>
<line x1="520.10" y1="257.40" x2="520.10" y2="275.40" stroke="#808080" stroke-width="1.2"/>
<polygon points="517.65,274.40 522.55,274.40 520.10,280.30" fill="#808080"/>
<line x1="524.80" y1="265.20" x2="524.80" y2="275.40" stroke="#ff0000" stroke-width="1.2"/>
<polygon points="522.35,274.40 527.25,274.40 524.80,280.30" fill="#ff0000"/>
<line x1="540.70" y1="265.20" x2="540.70" y2="275.40" stroke="#ff0000" stroke-width="1.2"/>
<polygon points="538.25,274.40 543.15,274.40 540.70,280.30" fill="#ff0000"/>
<text x="363.30" y="262.30" font-size="7.3" font-weight="bold" fill="#ff7d14" stroke="#ff7d14" stroke-width="0.2" text-anchor="middle">SD</text>
<text x="379.60" y="259.00" font-size="7.3" font-weight="bold" fill="#19be19" stroke="#19be19" stroke-width="0.2" text-anchor="middle">PR</text>
<text x="438.60" y="259.00" font-size="7.3" font-weight="bold" fill="#19be19" stroke="#19be19" stroke-width="0.2" text-anchor="middle">CR</text>
<text x="490.80" y="261.80" font-size="7.3" font-weight="bold" fill="#ff0000" stroke="#ff0000" stroke-width="0.2" text-anchor="middle">PD</text>
<text x="527.40" y="261.80" font-size="7.3" font-weight="bold" fill="#ff0000" stroke="#ff0000" stroke-width="0.2" text-anchor="middle">PD</text>
<text x="543.30" y="261.80" font-size="7.3" font-weight="bold" fill="#ff0000" stroke="#ff0000" stroke-width="0.2" text-anchor="middle">PD</text>
<text x="520.70" y="246.90" font-size="5.9" font-weight="bold" fill="#808080" stroke="#808080" stroke-width="0.2" text-anchor="middle">Lumbar</text>
<text x="520.40" y="253.60" font-size="5.9" font-weight="bold" fill="#808080" stroke="#808080" stroke-width="0.2" text-anchor="middle">puncture</text>
<text x="359.80" y="294.10" font-size="7.4" font-weight="normal" fill="#111" stroke="#111" stroke-width="0.2" text-anchor="start">Encorafenib</text>
<text x="498.50" y="292.30" font-size="7.3" font-weight="normal" fill="#111" stroke="#111" stroke-width="0.2" text-anchor="start">Dab/Tra</text>
<text x="530.70" y="292.30" font-size="7.25" font-weight="normal" fill="#111" stroke="#111" stroke-width="0.2" text-anchor="start">Ipi/Nivo</text>
<polyline points="471.45,399.30 483.01,399.30 486.87,399.30 498.44,399.30 502.29,399.30 517.71,391.42 525.42,378.78 533.13,354.36" fill="none" stroke="#000" stroke-width="1.3" stroke-linejoin="round"/>
<circle cx="471.45" cy="399.30" r="2.3" fill="#000"/>
<circle cx="483.01" cy="399.30" r="2.3" fill="#000"/>
<circle cx="486.87" cy="399.30" r="2.3" fill="#000"/>
<circle cx="498.44" cy="399.30" r="2.3" fill="#000"/>
<circle cx="502.29" cy="399.30" r="2.3" fill="#000"/>
<circle cx="517.71" cy="391.42" r="2.3" fill="#000"/>
<circle cx="525.42" cy="378.78" r="2.3" fill="#000"/>
<circle cx="533.13" cy="354.36" r="2.3" fill="#000"/>
<line x1="592.00" y1="374.80" x2="605.60" y2="374.80" stroke="#000" stroke-width="1.4"/>
<circle cx="598.80" cy="374.80" r="2.4" fill="#000"/>
<text x="613.50" y="378.00" font-size="9.0" font-weight="normal" fill="#151515" stroke="#151515" stroke-width="0.2" text-anchor="start">BRAF V600E</text>
</svg>
</body></html>
